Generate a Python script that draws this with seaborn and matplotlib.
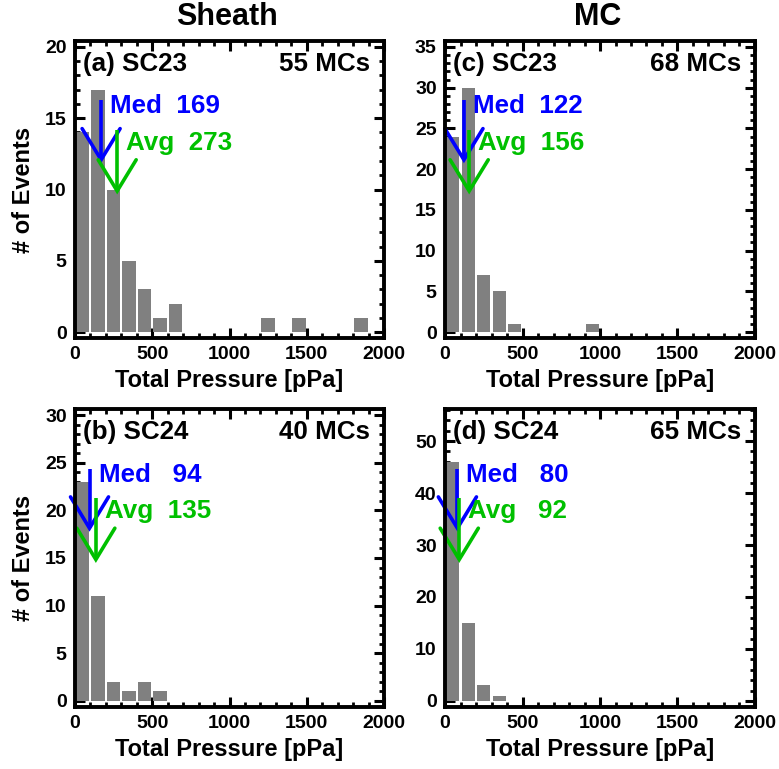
import numpy as np
import pandas as pd
import matplotlib
matplotlib.use("Agg")
import matplotlib.pyplot as plt
import matplotlib.transforms as mtrans
from matplotlib.ticker import MultipleLocator
import seaborn as sns

sns.set_style("white")
plt.rcParams['font.family'] = ['Liberation Sans', 'DejaVu Sans']
plt.rcParams['font.weight'] = 'bold'
plt.rcParams['text.color'] = 'black'
plt.rcParams['axes.labelcolor'] = 'black'
plt.rcParams['xtick.color'] = 'black'
plt.rcParams['ytick.color'] = 'black'

# ---- data ----
bin_width = 100
bin_range = (0, 2000)
bin_centers = np.arange(50, 2000, 100)

counts_a = [14, 17, 10, 5, 3, 1, 2, 0, 0, 0, 0, 0, 1, 0, 1, 0, 0, 0, 1, 0]
counts_b = [23, 11, 2, 1, 2, 1, 0, 0, 0, 0, 0, 0, 0, 0, 0, 0, 0, 0, 0, 0]
counts_c = [24, 30, 7, 5, 1, 0, 0, 0, 0, 1, 0, 0, 0, 0, 0, 0, 0, 0, 0, 0]
counts_d = [46, 15, 3, 1, 0, 0, 0, 0, 0, 0, 0, 0, 0, 0, 0, 0, 0, 0, 0, 0]

panel_labels = ["(a) SC23", "(b) SC24", "(c) SC23", "(d) SC24"]
n_mcs = [55, 40, 68, 65]
medians = [169, 94, 122, 80]
averages = [273, 135, 156, 92]
y_max = [20, 30, 35, 55]
y_major = [5, 5, 5, 10]
y_minor = [1, 1, 1, 2]
column_titles = ["Sheath", "MC"]

all_counts = [counts_a, counts_b, counts_c, counts_d]

# ---- style ----
W, H = 779, 769
fig = plt.figure(figsize=(W / 100, H / 100), dpi=100)

lefts = [75, 445]
rights = [384, 755]
tops = [41, 409]
bottoms = [338, 707]

bar_color = "#808080"
med_color = "#0000ff"
avg_color = "#00c000"

axes = []
for idx in range(4):
    col = idx // 2
    row = idx % 2
    l = lefts[col] / W
    b = 1 - bottoms[row] / H
    w = (rights[col] - lefts[col]) / W
    h = (bottoms[row] - tops[row]) / H
    ax = fig.add_axes([l, b, w, h])
    axes.append(ax)

    df = pd.DataFrame({"pressure": bin_centers,
                       "count": np.asarray(all_counts[idx], dtype=float)})
    sns.histplot(data=df, x="pressure", weights="count", binwidth=bin_width,
                 binrange=bin_range, shrink=0.87, color=bar_color, alpha=1,
                 edgecolor="none", linewidth=0, ax=ax)

    ym = y_max[idx]
    ax.set_xlim(0, 2000)
    ax.set_ylim(-0.021 * ym, ym * 1.021)
    ax.xaxis.set_major_locator(MultipleLocator(500))
    ax.xaxis.set_minor_locator(MultipleLocator(100))
    ax.yaxis.set_major_locator(MultipleLocator(y_major[idx]))
    ax.yaxis.set_minor_locator(MultipleLocator(y_minor[idx]))
    ax.tick_params(which='both', direction='in', top=True, right=True,
                   bottom=True, left=True, color='black', labelcolor='black')
    ax.tick_params(which='major', length=7, width=2.2, labelsize=14, pad=6)
    ax.tick_params(which='minor', length=3.5, width=2.0)
    for lab in ax.get_xticklabels() + ax.get_yticklabels():
        lab.set_fontweight('bold')
    for sp in ax.spines.values():
        sp.set_linewidth(2.8)
        sp.set_color('black')
        sp.set_visible(True)

    ax.set_xlabel("Total Pressure [pPa]", fontsize=17, fontweight='bold',
                  labelpad=4, color='black')
    if col == 0:
        ax.set_ylabel("# of Events", fontsize=17, fontweight='bold',
                      labelpad=7, color='black')
    else:
        ax.set_ylabel("")

    ax.text(0.025, 0.922, panel_labels[idx], transform=ax.transAxes,
            fontsize=18.7, fontweight='bold', ha='left', va='center', color='black')
    ax.text(0.955, 0.922, f"{n_mcs[idx]} MCs", transform=ax.transAxes,
            fontsize=18.7, fontweight='bold', ha='right', va='center', color='black')

    # arrows: x in data, y in axes fraction
    trans = mtrans.blended_transform_factory(ax.transData, ax.transAxes)
    hw = 19 * 2000 / 309.0  # head half width in data units
    for val, color, ytop, ytip, ytext, name in [
        (medians[idx], med_color, 0.80, 0.60, 0.78, "Med"),
        (averages[idx], avg_color, 0.70, 0.495, 0.658, "Avg"),
    ]:
        yhead = ytip + 0.105
        ax.plot([val, val], [ytop, ytip], color=color, lw=2.6,
                transform=trans, solid_capstyle='butt', clip_on=False)
        ax.plot([val - hw, val, val + hw], [yhead, ytip, yhead], color=color,
                lw=2.6, transform=trans, solid_joinstyle='miter', clip_on=False)
        ax.annotate(f"{name} {val:4d}", xy=(val, ytext), xycoords=trans,
                    xytext=(6.5, 0), textcoords='offset points',
                    color=color, fontsize=18.7, fontweight='bold',
                    ha='left', va='center')

for col, title in enumerate(column_titles):
    cx = (lefts[col] + rights[col]) / 2 / W - 0.003
    fig.text(cx, 1 - 17 / H, title, fontsize=22, fontweight='bold',
             ha='center', va='center', color='black')

fig.savefig("out.png", dpi=100, facecolor='white')
